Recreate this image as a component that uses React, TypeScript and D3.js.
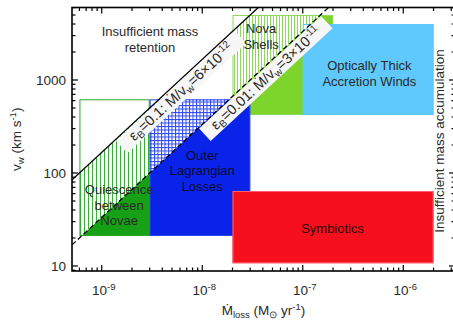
import * as d3 from 'd3'

const WIDTH = 453
const HEIGHT = 320
const PLOT = { left: 72, right: 455, top: 7.5, bottom: 271 }

// axis ranges (Mdot in Msun/yr, v_w in km/s)
const X_DOMAIN = [5.06e-10, 3.27e-6]
const Y_DOMAIN = [8.83, 6020]
const X_LABELS = [1e-9, 1e-8, 1e-7, 1e-6]
const Y_LABELS = [10, 100, 1000]

// boxes, drawn in this order
const regionNames = ['Nova Shells', 'Quiescence between Novae', 'Outer Lagrangian Losses', 'Optically Thick Accretion Winds', 'Symbiotics']
const mdotLow = [2e-8, 6e-10, 3e-9, 1e-7, 2e-8]
const mdotHigh = [2e-7, 3e-9, 3e-8, 2e-6, 2e-6]
const vLow = [420, 21, 21, 420, 10.7]
const vHigh = [5000, 620, 620, 4000, 64]

// Mdot / v_w for the two efficiency lines
const epsB = ['0.1', '0.01']
const ratios = [6e-12, 3e-11]
const ratioMantissa = ['6', '3']
const ratioExp = ['-12', '-11']
// where along each line its label sits (Mdot at the foot of the label)
const bandAt = [5.3e-9, 3.7e-8]

const STYLE = [
  { solid: '#7dd52b', hatch: '#8fd75c', edge: '#8fd75c', pattern: 'vert3' },
  { solid: '#16a016', hatch: '#3aad3a', edge: '#30a830', pattern: 'vert4' },
  { solid: '#0a23e8', hatch: '#2a46f2', edge: '#2a46f2', pattern: 'grid' },
  { solid: '#5fc8fc', hatch: '#5fc8fc', edge: '#5fc8fc', pattern: 'none' },
  { solid: '#f6101e', hatch: '#f6101e', edge: '#ff6070', pattern: 'none' },
]

const FONT = '"Liberation Sans", Arial, Helvetica, sans-serif'
const TXT = '#2a2a2a'

// parts: [text, shift (+ down / - up), fontSize]
const rich = (parts) => {
  let cur = 0
  return parts.map(([t, shift = 0, size], j) => {
    const dy = shift - cur
    cur = shift
    return (
      <tspan key={j} dy={dy || undefined} fontSize={size}>
        {t}
      </tspan>
    )
  })
}

export default function App() {
  const xScale = d3.scaleLog().domain(X_DOMAIN).range([PLOT.left, PLOT.right])
  const yScale = d3.scaleLog().domain(Y_DOMAIN).range([PLOT.bottom, PLOT.top])

  const vA = 1
  const vB = 1e5
  const pt = (m, v) => `${xScale(m)},${yScale(v)}`
  const [kSolid, kDashed] = ratios
  const betweenPoly = [pt(kSolid * vA, vA), pt(kSolid * vB, vB), pt(kDashed * vB, vB), pt(kDashed * vA, vA)].join(' ')
  const belowPoly = [pt(kDashed * vA, vA), pt(kDashed * vB, vB), pt(1, vB), pt(1, vA)].join(' ')

  const isMajor = (v) => Math.abs(Math.log10(v) - Math.round(Math.log10(v))) < 1e-6
  const xTicks = xScale.ticks()
  const yTicks = yScale.ticks()

  const boxes = regionNames.map((name, i) => {
    const x = xScale(mdotLow[i])
    const w = xScale(mdotHigh[i]) - x
    const y = yScale(vHigh[i])
    const h = yScale(vLow[i]) - y
    const s = STYLE[i]
    return (
      <g key={name}>
        <rect x={x} y={y} width={w} height={h} fill={s.pattern === 'none' ? 'white' : `url(#p-${s.pattern}-${i})`} clipPath="url(#between)" />
        <rect x={x} y={y} width={w} height={h} fill={s.solid} clipPath="url(#below)" />
        <rect x={x + 0.5} y={y + 0.5} width={w - 1} height={h - 1} fill="none" stroke={s.edge} strokeWidth={1} />
      </g>
    )
  })

  const patterns = STYLE.map((s, i) => {
    if (s.pattern === 'vert3' || s.pattern === 'vert4') {
      const n = s.pattern === 'vert3' ? 3 : 4
      return (
        <pattern key={i} id={`p-${s.pattern}-${i}`} patternUnits="userSpaceOnUse" width={n} height={n}>
          <rect width={n} height={n} fill="white" />
          <line x1={0.5} y1={0} x2={0.5} y2={n} stroke={s.hatch} strokeWidth={1} />
        </pattern>
      )
    }
    if (s.pattern === 'grid') {
      return (
        <pattern key={i} id={`p-grid-${i}`} patternUnits="userSpaceOnUse" width={3.5} height={3.5}>
          <rect width={3.5} height={3.5} fill="white" />
          <line x1={0.5} y1={0} x2={0.5} y2={3.5} stroke={s.hatch} strokeWidth={1} />
          <line x1={0} y1={0.5} x2={3.5} y2={0.5} stroke={s.hatch} strokeWidth={1} />
        </pattern>
      )
    }
    return null
  })

  const ratioLines = ratios.map((k, i) => (
    <line
      key={k}
      x1={xScale(k * vA)}
      y1={yScale(vA)}
      x2={xScale(k * vB)}
      y2={yScale(vB)}
      stroke="black"
      strokeWidth={1.3}
      strokeDasharray={i === 1 ? '5,3' : undefined}
    />
  ))

  const bands = ratios.map((k, i) => {
    const m = bandAt[i]
    const fx = xScale(m)
    const fy = yScale(m / k)
    const ang = (Math.atan2(yScale(1000) - yScale(100), xScale(k * 1000) - xScale(k * 100)) * 180) / Math.PI
    const len = i === 0 ? 162 : 166
    return (
      <g key={k} transform={`translate(${fx},${fy}) rotate(${ang})`}>
        <rect x={-len / 2} y={1} width={len} height={17} fill="#f7f7f7" />
        <text x={0} y={14} textAnchor="middle" fontSize={14.5} fill={TXT} fontFamily={FONT}>
          {rich([
            ['\u03b5'],
            ['B', 3, 10],
            [`=${epsB[i]}: \u1e40/v`],
            ['w', 3, 10],
            [`=${ratioMantissa[i]}\u00d710`],
            [ratioExp[i], -5.5, 10],
          ])}
        </text>
      </g>
    )
  })

  const label = (lines, m, v, key, fill = TXT) => (
    <text key={key} x={xScale(m)} y={yScale(v)} textAnchor="middle" fontSize={13} fill={fill} fontFamily={FONT}>
      {lines.map((l, j) => (
        <tspan key={j} x={xScale(m)} dy={j === 0 ? 0 : 15.5}>
          {l}
        </tspan>
      ))}
    </text>
  )

  return (
    <svg width={WIDTH} height={HEIGHT} style={{ position: 'absolute', left: 0, top: 0, background: 'white' }}>
      <defs>
        {patterns}
        <clipPath id="plot">
          <rect x={PLOT.left} y={PLOT.top} width={PLOT.right - PLOT.left} height={PLOT.bottom - PLOT.top} />
        </clipPath>
        <clipPath id="between">
          <polygon points={betweenPoly} />
        </clipPath>
        <clipPath id="below">
          <polygon points={belowPoly} />
        </clipPath>
      </defs>

      <g clipPath="url(#plot)">
        {boxes}
        {ratioLines}
        {bands}
      </g>

      {label(['Insufficient mass', 'retention'], 3.02e-9, 2970, 'imr')}
      {label(['Nova', 'Shells'], 3.85e-8, 3200, 'nova')}
      {label(['Optically Thick', 'Accretion Winds'], 4.6e-7, 1280, 'otw')}
      {label(['Outer', 'Lagrangian', 'Losses'], 1.0e-8, 138, 'oll', '#0a0a30')}
      {label(['Quiescence', 'between', 'Novae'], 1.49e-9, 59, 'qbn')}
      {label(['Symbiotics'], 1.98e-7, 22.5, 'sym', '#2a0505')}
      <text
        transform={`translate(${xScale(2.55e-6)},${yScale(221)}) rotate(-90)`}
        textAnchor="middle"
        fontSize={13.5}
        fill={TXT}
        fontFamily={FONT}
      >
        Insufficient mass accumulation
      </text>

      {/* frame + inward ticks on all four sides */}
      <rect
        x={PLOT.left}
        y={PLOT.top}
        width={PLOT.right - PLOT.left}
        height={PLOT.bottom - PLOT.top}
        fill="none"
        stroke="black"
        strokeWidth={1.6}
      />
      {xTicks.map((t, i) => {
        const x = xScale(t)
        const l = isMajor(t) ? 6 : 3.5
        return (
          <g key={'x' + i} stroke="black" strokeWidth={1.2}>
            <line x1={x} x2={x} y1={PLOT.bottom} y2={PLOT.bottom - l} />
            <line x1={x} x2={x} y1={PLOT.top} y2={PLOT.top + l} />
          </g>
        )
      })}
      {yTicks.map((t, i) => {
        const y = yScale(t)
        const l = isMajor(t) ? 6 : 3.5
        return (
          <g key={'y' + i} stroke="black" strokeWidth={1.2}>
            <line x1={PLOT.left} x2={PLOT.left + l} y1={y} y2={y} />
            <line x1={PLOT.right} x2={PLOT.right - l} y1={y} y2={y} />
          </g>
        )
      })}

      {X_LABELS.map((t) => (
        <text key={t} x={xScale(t) + 2} y={295} textAnchor="middle" fontSize={13.5} fill={TXT} fontFamily={FONT}>
          {rich([['10'], [String(Math.round(Math.log10(t))), -5, 9.5]])}
        </text>
      ))}
      {Y_LABELS.map((t) => (
        <text
          key={t}
          x={PLOT.left - 6}
          y={yScale(t)}
          dy="0.36em"
          textAnchor="end"
          fontSize={13.5}
          fill={TXT}
          fontFamily={FONT}
        >
          {t}
        </text>
      ))}

      <text x={(PLOT.left + PLOT.right) / 2} y={315} textAnchor="middle" fontSize={13.5} fill={TXT} fontFamily={FONT}>
        {rich([['\u1e40'], ['loss', 3, 9.5], [' (M'], ['\u2299', 3, 9.5], [' yr'], ['-1', -5, 9.5], [')']])}
      </text>
      <text
        transform={`translate(21,${(PLOT.top + PLOT.bottom) / 2}) rotate(-90)`}
        textAnchor="middle"
        fontSize={13.5}
        fill={TXT}
        fontFamily={FONT}
      >
        {rich([['v'], ['w', 3, 9.5], [' (km s'], ['-1', -5, 9.5], [')']])}
      </text>
    </svg>
  )
}
